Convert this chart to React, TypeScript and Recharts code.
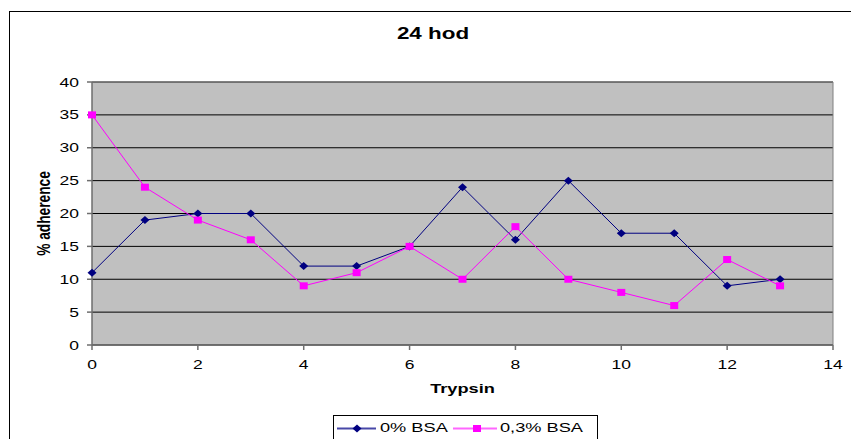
import { LineChart, Line, XAxis, YAxis, CartesianGrid, ReferenceLine } from "recharts";

const trypsin = [0, 1, 2, 3, 4, 5, 6, 7, 8, 9, 10, 11, 12, 13];
const bsa0 = [11, 19, 20, 20, 12, 12, 15, 24, 16, 25, 17, 17, 9, 10];
const bsa03 = [35, 24, 19, 16, 9, 11, 15, 10, 18, 10, 8, 6, 13, 9];
const xTicks = [0, 2, 4, 6, 8, 10, 12, 14];
const yTicks = [0, 5, 10, 15, 20, 25, 30, 35, 40];
const seriesNames = ["0% BSA", "0,3% BSA"];

const NAVY = "#000080";
const MAGENTA = "#FF00FF";
const AXIS = "#6e6e6e";
const FONT = "'Liberation Sans', Arial, sans-serif";
// the original picture is stretched sideways, text included
const SX = 1.4;

const data = trypsin.map((t, i) => ({ t, a: bsa0[i], b: bsa03[i] }));

const Diamond = (props: any) => {
    const { cx, cy } = props;
    if (cx == null || cy == null) return null;
    return <path d={`M${cx},${cy - 4}L${cx + 4.5},${cy}L${cx},${cy + 4}L${cx - 4.5},${cy}Z`} fill={NAVY} />;
};

const Square = (props: any) => {
    const { cx, cy } = props;
    if (cx == null || cy == null) return null;
    return <rect x={cx - 4} y={cy - 3.5} width={8} height={7} fill={MAGENTA} />;
};

const YTick = (props: any) => {
    const { x, y, payload } = props;
    return (
        <g transform={`translate(${x},${y})`}>
            <text transform={`scale(${SX},1)`} textAnchor="end" dy="0.36em" fontSize={12.5} fill="#000" fontFamily={FONT}>
                {payload.value}
            </text>
        </g>
    );
};

const XTick = (props: any) => {
    const { x, y, payload } = props;
    return (
        <g transform={`translate(${x},${y})`}>
            <text transform={`scale(${SX},1)`} textAnchor="middle" dy="0.71em" fontSize={12.5} fill="#000" fontFamily={FONT}>
                {payload.value}
            </text>
        </g>
    );
};

const XTitle = (props: any) => {
    const vb = props.viewBox;
    return (
        <g transform={`translate(${vb.x + vb.width / 2},${vb.y + 48})`}>
            <text transform={`scale(${SX},1)`} textAnchor="middle" fontSize={13} fontWeight="bold" fill="#000" fontFamily={FONT}>
                Trypsin
            </text>
        </g>
    );
};

const YTitle = (props: any) => {
    const vb = props.viewBox;
    return (
        <g transform={`translate(44,${vb.y + vb.height / 2}) rotate(-90)`}>
            <text transform="scale(1.1,1.4)" textAnchor="middle" dy="0.36em" fontSize={12.5} fontWeight="bold" fill="#000" fontFamily={FONT}>
                % adherence
            </text>
        </g>
    );
};

const legendText = (left: number, label: string) => (
    <span
        style={{
            position: "absolute",
            left,
            top: 4,
            fontSize: 13,
            lineHeight: "16px",
            transform: `scaleX(${SX})`,
            transformOrigin: "left center",
            whiteSpace: "nowrap",
        }}
    >
        {label}
    </span>
);

const LegendBox = () => (
    <div
        style={{
            position: "absolute",
            left: 333,
            top: 415,
            width: 265,
            height: 30,
            border: "1px solid #000",
            background: "#fff",
            boxSizing: "border-box",
            fontFamily: FONT,
        }}
    >
        <svg width={263} height={24} style={{ position: "absolute", left: 0, top: 0 }}>
            <line x1={3} y1={12.5} x2={42} y2={12.5} stroke="#4848a8" strokeWidth={2} />
            <path d="M23,8.5L27.5,12.5L23,16.5L18.5,12.5Z" fill={NAVY} />
            <line x1={119} y1={12.5} x2={163} y2={12.5} stroke="#ff66ff" strokeWidth={2} />
            <rect x={139} y={9} width={8} height={7} fill={MAGENTA} />
        </svg>
        {legendText(46, seriesNames[0])}
        {legendText(166, seriesNames[1])}
    </div>
);

export default function App() {
    return (
        <div style={{ position: "absolute", left: 0, top: 0, width: 851, height: 439, background: "#fff", overflow: "hidden" }}>
            <div
                style={{
                    position: "absolute",
                    left: 9,
                    top: 11,
                    width: 860,
                    height: 450,
                    border: "1px solid #000",
                    boxSizing: "border-box",
                }}
            />
            <div
                style={{
                    position: "absolute",
                    left: 433,
                    top: 26,
                    fontFamily: FONT,
                    fontWeight: "bold",
                    fontSize: 16,
                    lineHeight: "16px",
                    whiteSpace: "nowrap",
                    transform: `translateX(-50%) scaleX(${SX})`,
                }}
            >
                24 hod
            </div>
            <div style={{ position: "absolute", left: 0, top: 0 }}>
                <LineChart
                    width={851}
                    height={439}
                    data={data}
                    margin={{ top: 82, right: 18, left: 62, bottom: 64 }}
                    style={{ fontFamily: FONT }}
                >
                    <CartesianGrid vertical={false} fill="#C0C0C0" stroke="#000" strokeOpacity={1} />
                    <XAxis
                        dataKey="t"
                        type="number"
                        domain={[0, 14]}
                        ticks={xTicks}
                        height={30}
                        tickSize={5}
                        tickMargin={10}
                        stroke={AXIS}
                        strokeWidth={1.5}
                        tick={<XTick />}
                        label={<XTitle />}
                    />
                    <YAxis
                        type="number"
                        domain={[0, 40]}
                        ticks={yTicks}
                        width={30}
                        tickSize={5}
                        tickMargin={8}
                        stroke={AXIS}
                        strokeWidth={1.5}
                        tick={<YTick />}
                        label={<YTitle />}
                    />
                    <ReferenceLine y={40} stroke="#808080" />
                    <ReferenceLine x={14} stroke="#808080" />
                    <Line
                        type="linear"
                        dataKey="a"
                        name={seriesNames[0]}
                        stroke={NAVY}
                        strokeWidth={1}
                        dot={<Diamond />}
                        activeDot={false}
                        isAnimationActive={false}
                    />
                    <Line
                        type="linear"
                        dataKey="b"
                        name={seriesNames[1]}
                        stroke={MAGENTA}
                        strokeWidth={1}
                        dot={<Square />}
                        activeDot={false}
                        isAnimationActive={false}
                    />
                </LineChart>
            </div>
            <LegendBox />
        </div>
    );
}
